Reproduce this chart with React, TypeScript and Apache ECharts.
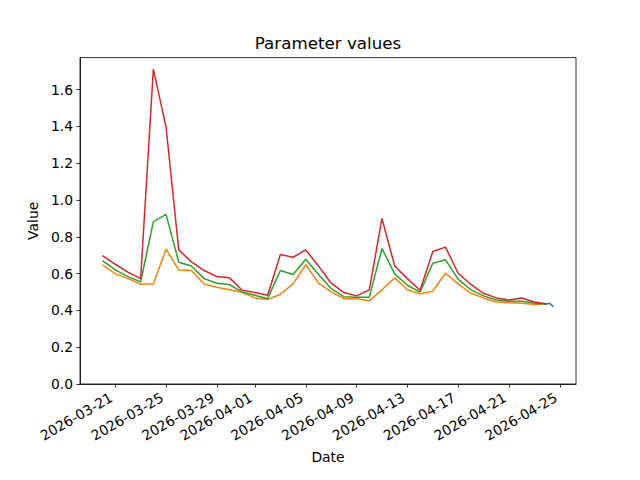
import React, { useEffect, useRef } from "react";
import * as echarts from "echarts";

const startDate = "2026-03-20";
const dayCount = 36;

const redValues = [
  0.698, 0.651, 0.608, 0.573, 1.712, 1.397, 0.729, 0.664, 0.617, 0.584, 0.577, 0.51,
  0.497, 0.483, 0.704, 0.689, 0.729, 0.642, 0.548, 0.497, 0.479, 0.512, 0.9, 0.642,
  0.573, 0.51, 0.72, 0.744, 0.602, 0.541, 0.493, 0.468, 0.457, 0.468, 0.446, 0.435,
];
const greenValues = [
  0.671, 0.62, 0.584, 0.555, 0.883, 0.922, 0.662, 0.642, 0.573, 0.548, 0.541, 0.499,
  0.483, 0.464, 0.617, 0.595, 0.678, 0.595, 0.519, 0.475, 0.472, 0.472, 0.736, 0.599,
  0.537, 0.499, 0.657, 0.675, 0.57, 0.512, 0.479, 0.457, 0.45, 0.45, 0.439, 0.435,
];
const orangeValues = [
  0.648, 0.6, 0.573, 0.544, 0.544, 0.733, 0.62, 0.617, 0.544, 0.526, 0.512, 0.497,
  0.468, 0.459, 0.488, 0.544, 0.649, 0.548, 0.501, 0.464, 0.464, 0.453, 0.512, 0.577,
  0.512, 0.49, 0.504, 0.602, 0.544, 0.493, 0.468, 0.446, 0.442, 0.439, 0.432, 0.435,
];
// short hourly series on the last day
const blueTimes = [
  "2026-04-24T00:00", "2026-04-24T02:00", "2026-04-24T04:00", "2026-04-24T06:00",
  "2026-04-24T08:00", "2026-04-24T10:00", "2026-04-24T12:00",
];
const blueValues = [0.435, 0.437, 0.438, 0.436, 0.43, 0.425, 0.42];

const tickDates = [
  "2026-03-21", "2026-03-25", "2026-03-29", "2026-04-01", "2026-04-05",
  "2026-04-09", "2026-04-13", "2026-04-17", "2026-04-21", "2026-04-25",
];

const DAY = 86400000;
const parseUTC = (s: string) => {
  const [d, t] = s.split("T");
  const [y, m, dd] = d.split("-").map(Number);
  let h = 0, mi = 0;
  if (t) [h, mi] = t.split(":").map(Number);
  return Date.UTC(y, m - 1, dd, h, mi);
};
const fmt = (v: number) => {
  const d = new Date(v);
  const p = (n: number) => String(n).padStart(2, "0");
  return `${d.getUTCFullYear()}-${p(d.getUTCMonth() + 1)}-${p(d.getUTCDate())}`;
};

export default function App() {
  const ref = useRef<HTMLDivElement>(null);
  useEffect(() => {
    if (!ref.current) return;
    const chart = echarts.init(ref.current, undefined, { renderer: "svg" });
    const t0 = parseUTC(startDate);
    const days = Array.from({ length: dayCount }, (_, i) => t0 + i * DAY);
    const toPairs = (vals: number[]) => vals.map((v, i) => [days[i], v]);
    const bluePairs = blueTimes.map((t, i) => [parseUTC(t), blueValues[i]]);
    const ticks = tickDates.map(parseUTC);
    const dataMin = t0;
    const dataMax = parseUTC(blueTimes[blueTimes.length - 1]);
    const span = dataMax - dataMin;
    const font = "DejaVu Sans";
    const lineStyle = (c: string) => ({ color: c, width: 1.5 });
    chart.setOption({
      animation: false,
      backgroundColor: "#ffffff",
      textStyle: { fontFamily: font },
      grid: {
        left: 80,
        right: 64,
        top: 57.6,
        bottom: 96,
        show: true,
        borderColor: "#000",
        borderWidth: 0.8,
      },
      graphic: [
        {
          type: "text",
          x: 328,
          y: 51,
          style: {
            text: "Parameter values",
            fontSize: 16.7,
            fontFamily: font,
            fill: "#000",
            textAlign: "center",
            textVerticalAlign: "bottom",
          },
        },
      ],
      xAxis: {
        type: "value",
        min: dataMin - span * 0.05,
        max: dataMax + span * 0.05,
        name: "Date",
        nameLocation: "middle",
        nameGap: 66,
        nameTextStyle: { fontSize: 13.9, color: "#000", fontFamily: font },
        splitLine: { show: false },
        axisLine: { show: true, onZero: false, lineStyle: { color: "#000", width: 0.8 } },
        axisTick: {
          show: true,
          length: 3.5,
          customValues: ticks,
          lineStyle: { color: "#000", width: 0.8 },
        },
        axisLabel: {
          customValues: ticks,
          rotate: 30,
          margin: 10,
          fontSize: 13.9,
          color: "#000",
          fontFamily: font,
          padding: [0, 4.6, 0, 0],
          formatter: (v: number) => fmt(v),
        },
      },
      yAxis: {
        type: "value",
        min: 0,
        max: 1.7745,
        interval: 0.2,
        name: "Value",
        nameLocation: "middle",
        nameGap: 38,
        nameTextStyle: { fontSize: 13.9, color: "#000", fontFamily: font },
        splitLine: { show: false },
        axisLine: { show: true, lineStyle: { color: "#000", width: 0.8 } },
        axisTick: { show: true, length: 3.5, lineStyle: { color: "#000", width: 0.8 } },
        axisLabel: {
          margin: 7,
          fontSize: 13.9,
          color: "#000",
          fontFamily: font,
          showMaxLabel: false,
          formatter: (v: number) => v.toFixed(1),
        },
      },
      series: [
        {
          name: "Min",
          type: "line",
          data: toPairs(orangeValues),
          showSymbol: false,
          lineStyle: lineStyle("#ff7f0e"),
          itemStyle: { color: "#ff7f0e" },
        },
        {
          name: "Mean",
          type: "line",
          data: toPairs(greenValues),
          showSymbol: false,
          lineStyle: lineStyle("#2ca02c"),
          itemStyle: { color: "#2ca02c" },
        },
        {
          name: "Max",
          type: "line",
          data: toPairs(redValues),
          showSymbol: false,
          lineStyle: lineStyle("#d62728"),
          itemStyle: { color: "#d62728" },
        },
        {
          name: "Hourly",
          type: "line",
          data: bluePairs,
          showSymbol: false,
          lineStyle: lineStyle("#1f77b4"),
          itemStyle: { color: "#1f77b4" },
        },
      ],
    });
    return () => chart.dispose();
  }, []);
  return <div ref={ref} style={{ width: 640, height: 480, position: "absolute", left: 0, top: 0 }} />;
}
